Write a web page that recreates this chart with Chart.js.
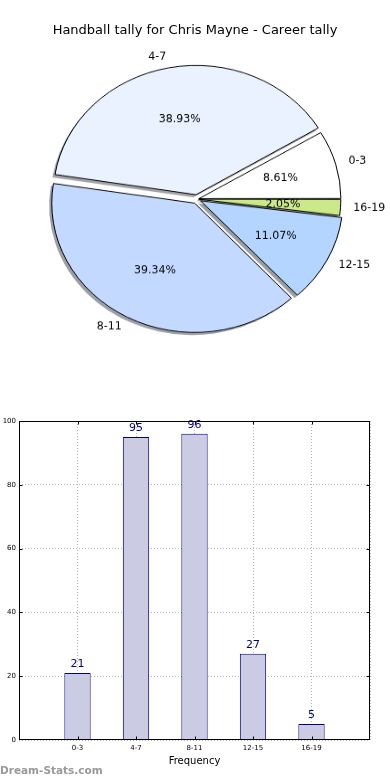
<!DOCTYPE html>
<html><head><meta charset="utf-8">
<script src="https://cdn.jsdelivr.net/npm/chart.js@4.4.1/dist/chart.umd.min.js"></script>
<style>
html,body{margin:0;padding:0;background:#fff;width:390px;height:780px;overflow:hidden;}
#pieWrap{position:absolute;left:0;top:0;width:390px;height:440px;transform:scaleY(0.905);transform-origin:0 0;}
#title{position:absolute;left:0;top:22px;width:390px;text-align:center;font:13px "DejaVu Sans";color:#000;line-height:16px;}
#barWrap{position:absolute;left:0;top:400px;width:390px;height:380px;}
#wm{position:absolute;left:0;top:763px;font:bold 10.5px "DejaVu Sans";color:#999;line-height:14px;}
</style></head>
<body>
<div id="pieWrap"><canvas id="pie" width="390" height="440" style="width:390px;height:440px"></canvas></div>
<div id="title">Handball tally for Chris Mayne - Career tally</div>
<div id="barWrap"><canvas id="bar" width="390" height="380" style="width:390px;height:380px"></canvas></div>
<div id="wm">Dream-Stats.com</div>
<script>
const categories = ['0-3', '4-7', '8-11', '12-15', '16-19'];
const tallies = [21, 95, 96, 27, 5];
const sliceColors = ['#ffffff', '#eaf1ff', '#c4d9ff', '#b3d5ff', '#cbe88a'];
const sliceExplode = [8, 20, 20, 16, 6];
const yTickStep = 20;
const yMax = 100;

Chart.defaults.font.family = '"DejaVu Sans", sans-serif';

const total = tallies.reduce((a, b) => a + b, 0);
// matplotlib draws counter-clockwise from 3 o'clock; Chart.js clockwise -> reverse order
const order = categories.map((c, i) => i).reverse();
const pieLabels = order.map(i => categories[i]);
const pieValues = order.map(i => tallies[i]);
const pieColors = order.map(i => sliceColors[i]);
const pieOffsets = order.map(i => sliceExplode[i]);
const SQ = 0.905;

function arcGeom(arc) {
  const p = arc.getProps(['x', 'y', 'startAngle', 'endAngle', 'outerRadius']);
  const t = (arc.options.offset || 0) / 4;
  const mid = (p.startAngle + p.endAngle) / 2;
  const circ = p.endAngle - p.startAngle;
  const rOff = t * (1 - Math.sin(Math.min(Math.PI, circ)));
  return {cx: p.x + Math.cos(mid) * t, cy: p.y + Math.sin(mid) * t, r: p.outerRadius + rOff,
          s: p.startAngle, e: p.endAngle, mid: mid, R: p.outerRadius};
}
function hexRgb(h) {
  h = h.replace('#', '');
  return [parseInt(h.substr(0, 2), 16), parseInt(h.substr(2, 2), 16), parseInt(h.substr(4, 2), 16)];
}

const pieShadow = {
  id: 'pieShadow',
  beforeDatasetsDraw(chart) {
    const ctx = chart.ctx;
    const meta = chart.getDatasetMeta(0);
    ctx.save();
    meta.data.forEach((arc) => {
      const g = arcGeom(arc);
      const c = hexRgb(arc.options.backgroundColor).map(v => Math.round(v * 0.3));
      ctx.fillStyle = `rgba(${c[0]},${c[1]},${c[2]},0.5)`;
      const x = g.cx - 2.6, y = g.cy + 2.9;
      ctx.beginPath();
      ctx.moveTo(x, y);
      ctx.arc(x, y, g.r, g.s, g.e);
      ctx.closePath();
      ctx.fill();
    });
    ctx.restore();
  }
};
const pieText = {
  id: 'pieText',
  afterDatasetsDraw(chart) {
    const ctx = chart.ctx;
    const meta = chart.getDatasetMeta(0);
    ctx.save();
    ctx.font = '11px "DejaVu Sans"';
    ctx.fillStyle = '#000';
    ctx.textBaseline = 'middle';
    const put = (txt, x, y, align) => {
      ctx.save();
      ctx.translate(x, y);
      ctx.scale(1, 1 / SQ);
      ctx.textAlign = align;
      ctx.fillText(txt, 0, 0);
      ctx.restore();
    };
    meta.data.forEach((arc, i) => {
      const g = arcGeom(arc);
      const c = Math.cos(g.mid), s = Math.sin(g.mid);
      put(pieLabels[i], g.cx + c * 1.1 * g.R, g.cy + s * 1.1 * g.R, c >= 0 ? 'left' : 'right');
      const pct = (100 * pieValues[i] / total).toFixed(2) + '%';
      put(pct, g.cx + c * 0.6 * g.R, g.cy + s * 0.6 * g.R, 'center');
    });
    ctx.restore();
  }
};

new Chart(document.getElementById('pie'), {
  type: 'pie',
  data: {
    labels: pieLabels,
    datasets: [{
      data: pieValues,
      backgroundColor: pieColors,
      borderColor: '#000',
      borderWidth: 1,
      offset: pieOffsets,
      hoverOffset: 0
    }]
  },
  options: {
    responsive: false,
    animation: false,
    devicePixelRatio: 1,
    rotation: 90,
    radius: 141,
    layout: {padding: {left: 4, right: 0, top: 2, bottom: 2}},
    plugins: {legend: {display: false}, tooltip: {enabled: false}}
  },
  plugins: [pieShadow, pieText]
});

const frame = {
  id: 'frame',
  afterDatasetsDraw(chart) {
    const ctx = chart.ctx;
    const a = chart.chartArea;
    const xs = chart.scales.x, ys = chart.scales.y;
    ctx.save();
    ctx.strokeStyle = '#000';
    ctx.lineWidth = 1;
    const L = Math.round(a.left) + 0.5, R = Math.round(a.right) - 0.5;
    const T = Math.round(a.top) + 0.5, B = Math.round(a.bottom) - 0.5;
    ctx.beginPath();
    categories.forEach((c, i) => {
      const px = Math.round(xs.getPixelForValue(i)) + 0.5;
      ctx.moveTo(px, T); ctx.lineTo(px, T + 3);
      ctx.moveTo(px, B); ctx.lineTo(px, B - 3);
    });
    for (let v = yTickStep; v < yMax; v += yTickStep) {
      const py = Math.round(ys.getPixelForValue(v)) + 0.5;
      ctx.moveTo(L, py); ctx.lineTo(L + 3, py);
      ctx.moveTo(R, py); ctx.lineTo(R - 3, py);
    }
    ctx.stroke();
    ctx.strokeRect(L, T, R - L, B - T);
    ctx.restore();
  }
};
const barValues = {
  id: 'barValues',
  afterDatasetsDraw(chart) {
    const ctx = chart.ctx;
    const meta = chart.getDatasetMeta(0);
    ctx.save();
    ctx.font = '11px "DejaVu Sans"';
    ctx.fillStyle = '#000080';
    ctx.textAlign = 'center';
    ctx.textBaseline = 'middle';
    meta.data.forEach((bar, i) => {
      ctx.fillText(String(tallies[i]), bar.x, bar.y - 9);
    });
    ctx.restore();
  }
};

new Chart(document.getElementById('bar'), {
  type: 'bar',
  data: {
    datasets: [{
      data: tallies.map((v, i) => ({x: i, y: v})),
      backgroundColor: '#cbcbe3',
      borderColor: '#000080',
      borderWidth: 1,
      barPercentage: 0.45,
      categoryPercentage: 1
    }]
  },
  options: {
    responsive: false,
    animation: false,
    devicePixelRatio: 1,
    layout: {padding: {left: 0, right: 20, top: 21, bottom: 11}},
    plugins: {legend: {display: false}, tooltip: {enabled: false}},
    scales: {
      x: {
        type: 'linear', min: -1, max: 5, offset: false,
        ticks: {stepSize: 1, autoSkip: false, maxRotation: 0, padding: 4, font: {size: 7}, color: '#000',
                callback: (v) => (categories[v] !== undefined ? categories[v] : '')},
        grid: {color: '#b4b4b4', drawTicks: false, offset: false},
        border: {display: false, dash: [1, 2]},
        title: {display: true, text: 'Frequency', font: {size: 10}, color: '#000', padding: {top: 0, bottom: 2}},
        afterFit: (s) => { s.height = 29; }
      },
      y: {
        min: 0, max: yMax,
        ticks: {stepSize: yTickStep, padding: 3, font: {size: 7}, color: '#000'},
        grid: {color: '#b4b4b4', drawTicks: false},
        border: {display: false, dash: [1, 2]},
        afterFit: (s) => { s.width = 19; }
      }
    }
  },
  plugins: [frame, barValues]
});
</script>
</body></html>
